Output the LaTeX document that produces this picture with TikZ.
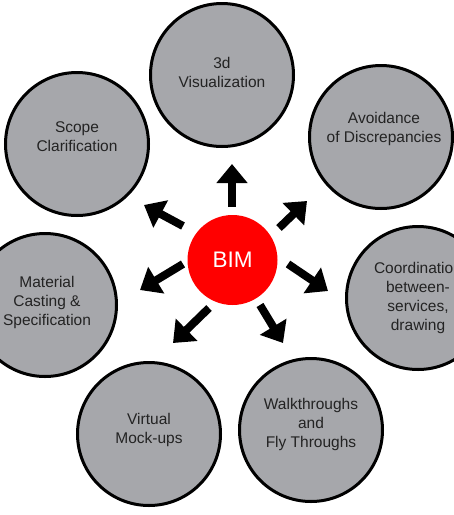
\documentclass[tikz,border=0pt]{standalone}
\usepackage{fontspec}
\setmainfont{Liberation Sans}
\usetikzlibrary{arrows.meta}
\definecolor{bubblegray}{RGB}{166,167,171}
\definecolor{txtgray}{RGB}{35,35,35}
\definecolor{bimred}{RGB}{255,0,0}
\tikzset{
  bubble/.style={circle, draw=black, line width=3pt, fill=bubblegray, minimum size=143pt, inner sep=0pt},
  txt/.style={align=center, text=txtgray, font=\fontsize{15.5}{19}\selectfont, inner sep=0pt},
  bimnode/.style={circle, fill=bimred, minimum size=90pt, inner sep=0pt, text=white, font=\fontsize{22.5}{26}\selectfont},
  bigarrow/.style={line width=8pt, -{Triangle[width=30pt,length=19pt]}}
}
\begin{document}
\begin{tikzpicture}[x=1pt,y=-1pt]
\useasboundingbox (0,0) rectangle (454,515);
\clip (0,0) rectangle (454,515);
\fill[white] (0,0) rectangle (454,515);
% bubbles
\node[bubble] (vis) at (222,75) {};
\node[bubble] (avd) at (381,137) {};
\node[bubble] (crd) at (418,298) {};
\node[bubble] (wlk) at (311,430) {};
\node[bubble] (mck) at (149,434) {};
\node[bubble] (mat) at (45,305) {};
\node[bubble] (scp) at (77,144) {};
% texts
\node[txt] (tvis) at (222,72) {3d\\Visualization};
\node[txt] (tavd) at (384,129) {Avoidance\\of Discrepancies};
\node[txt] (tcrd) at (418,298) {Coordination\\between-\\services,\\drawing};
\node[txt] (twlk) at (311,424) {Walkthroughs\\and\\Fly Throughs};
\node[txt] (tmck) at (149,430) {Virtual\\Mock-ups};
\node[txt] (tmat) at (47,302) {Material\\Casting \&\\Specification};
\node[txt] (tscp) at (77,137) {Scope\\Clarification};
% center
\node[bimnode] (bim) at (232.5,260) {BIM};
% arrow ends
\coordinate (s1) at (232,207); \coordinate (e1) at (232,164);
\coordinate (s2) at (279,228); \coordinate (e2) at (307,201);
\coordinate (s3) at (288,264); \coordinate (e3) at (328,291);
\coordinate (s4) at (260,305); \coordinate (e4) at (283,343);
\coordinate (s5) at (209,308); \coordinate (e5) at (173,343);
\coordinate (s6) at (183,264); \coordinate (e6) at (140,290);
\coordinate (s7) at (183,226); \coordinate (e7) at (144,205);
\foreach \i in {1,...,7} { \draw[bigarrow] (s\i) -- (e\i); }
\end{tikzpicture}
\end{document}
